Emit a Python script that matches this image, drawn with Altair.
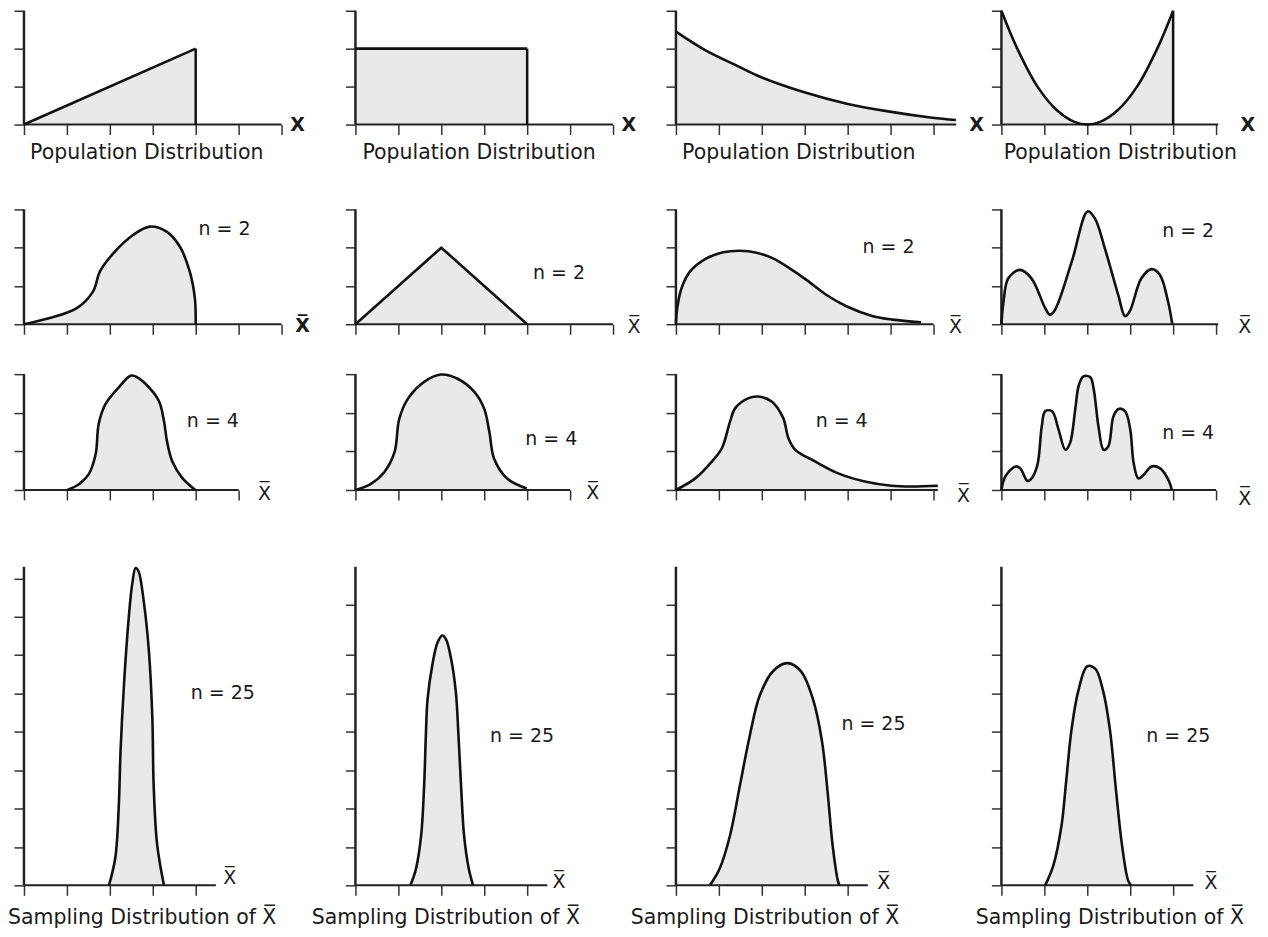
import altair as alt
import pandas as pd

FONT = "DejaVu Sans"
FILL = "#e9e9e9"
INK = "#111111"
AXC = "#222222"
XBAR = "X\u0305"

# ---------------- curves (x: tick units, y: tick units) ----------------
# Row 1 - population distributions
R1C1_X = [0, 4]
R1C1_Y = [0, 2]
R1C2_X = [0, 4]
R1C2_Y = [2, 2]
R1C3_X = [0, 0.67, 1.44, 2.0, 2.99, 3.98, 4.98, 5.97, 6.52]
R1C3_Y = [2.45, 1.97, 1.54, 1.24, 0.85, 0.55, 0.34, 0.18, 0.12]
R1C4_X = [0, 0.37, 0.84, 1.3, 1.7, 2.0, 2.3, 2.7, 3.16, 3.63, 4.0]
R1C4_Y = [3, 2.0, 1.0, 0.37, 0.07, 0, 0.07, 0.37, 1.0, 2.0, 3.0]

# Row 2 - n = 2
R2C1_X = [0, 0.6, 1.23, 1.61, 1.77, 2.08, 2.54, 2.93, 3.32, 3.63, 3.86, 3.98, 4.0]
R2C1_Y = [0, 0.16, 0.42, 0.86, 1.38, 1.85, 2.33, 2.55, 2.42, 2.03, 1.38, 0.68, 0]
R2C2_X = [0, 2, 4]
R2C2_Y = [0, 2, 0]
R2C3_X = [0, 0.03, 0.13, 0.33, 0.71, 1.1, 1.49, 1.88, 2.26, 2.65, 3.04, 3.5, 3.97, 4.59, 5.05, 5.71]
R2C3_Y = [0, 0.42, 0.94, 1.38, 1.72, 1.88, 1.92, 1.87, 1.72, 1.46, 1.16, 0.77, 0.47, 0.21, 0.12, 0.05]
R2C4_X = [0, 0.05, 0.16, 0.43, 0.7, 1.02, 1.13, 1.25, 1.64, 2.01, 2.18, 2.41, 2.72, 2.88, 2.99, 3.26, 3.5, 3.69, 3.88, 3.98]
R2C4_Y = [0, 0.6, 1.2, 1.42, 1.2, 0.42, 0.25, 0.38, 1.64, 2.95, 2.76, 1.98, 0.77, 0.21, 0.34, 1.2, 1.44, 1.29, 0.6, 0]

# Row 3 - n = 4
R3C1_X = [1.01, 1.28, 1.51, 1.67, 1.74, 1.9, 2.21, 2.48, 2.6, 2.83, 3.14, 3.26, 3.33, 3.45, 3.68, 3.99]
R3C1_Y = [0, 0.15, 0.41, 0.93, 1.71, 2.23, 2.66, 2.96, 2.94, 2.75, 2.31, 1.79, 1.27, 0.75, 0.32, 0]
R3C2_X = [0, 0.36, 0.67, 0.91, 1.02, 1.22, 1.6, 1.99, 2.38, 2.77, 3.0, 3.12, 3.23, 3.54, 3.99]
R3C2_Y = [0, 0.16, 0.46, 0.98, 1.84, 2.36, 2.8, 2.99, 2.88, 2.54, 2.1, 1.5, 0.81, 0.29, 0.04]
R3C3_X = [0, 0.45, 0.84, 1.07, 1.26, 1.38, 1.69, 1.92, 2.23, 2.5, 2.62, 2.78, 3.24, 3.78, 4.4, 5.02, 5.49, 6.1]
R3C3_Y = [0, 0.3, 0.74, 1.08, 1.77, 2.12, 2.38, 2.42, 2.29, 1.86, 1.34, 1.04, 0.74, 0.43, 0.22, 0.11, 0.09, 0.11]
R3C4_X = [0, 0.09, 0.33, 0.44, 0.6, 0.67, 0.83, 0.94, 1.02, 1.18, 1.33, 1.49, 1.6, 1.72, 1.8, 1.91, 2.07,
          2.15, 2.26, 2.38, 2.49, 2.61, 2.73, 2.88, 3.0, 3.08, 3.19, 3.31, 3.5, 3.7, 3.89, 3.97]
R3C4_Y = [0, 0.35, 0.61, 0.56, 0.24, 0.26, 0.61, 1.65, 2.04, 2.04, 1.57, 1.04, 1.22, 2.09, 2.7, 2.94, 2.92,
          2.61, 1.65, 1.04, 1.13, 1.91, 2.1, 2.04, 1.57, 0.7, 0.3, 0.39, 0.61, 0.56, 0.26, 0]

# Row 4 - n = 25
R4C1_X = [1.98, 2.13, 2.21, 2.25, 2.33, 2.44, 2.52, 2.6, 2.67, 2.79, 2.91, 2.99, 3.02, 3.1, 3.26]
R4C1_Y = [0, 0.74, 2.12, 3.51, 5.24, 6.97, 7.84, 8.27, 8.18, 7.4, 6.1, 4.37, 2.64, 1.08, 0]
R4C2_X = [1.28, 1.41, 1.53, 1.6, 1.64, 1.68, 1.8, 1.91, 2.02, 2.11, 2.23, 2.34, 2.4, 2.46, 2.53, 2.64, 2.74]
R4C2_Y = [0, 0.43, 1.3, 2.6, 3.9, 4.85, 5.8, 6.32, 6.51, 6.41, 5.89, 5.02, 3.9, 2.6, 1.3, 0.43, 0]
R4C3_X = [0.79, 1.02, 1.26, 1.49, 1.72, 1.95, 2.26, 2.6, 2.91, 3.19, 3.4, 3.53, 3.65, 3.77, 3.81]
R4C3_Y = [0, 0.44, 1.3, 2.6, 3.9, 4.94, 5.58, 5.79, 5.58, 4.86, 3.77, 2.47, 1.04, 0.13, 0]
R4C4_X = [1.02, 1.21, 1.4, 1.51, 1.63, 1.79, 2.0, 2.19, 2.37, 2.53, 2.67, 2.81, 2.95, 3.02]
R4C4_Y = [0, 0.52, 1.56, 2.73, 4.03, 5.06, 5.71, 5.64, 5.06, 4.03, 2.47, 1.04, 0.13, 0]

CURVES = [
    [(R1C1_X, R1C1_Y), (R1C2_X, R1C2_Y), (R1C3_X, R1C3_Y), (R1C4_X, R1C4_Y)],
    [(R2C1_X, R2C1_Y), (R2C2_X, R2C2_Y), (R2C3_X, R2C3_Y), (R2C4_X, R2C4_Y)],
    [(R3C1_X, R3C1_Y), (R3C2_X, R3C2_Y), (R3C3_X, R3C3_Y), (R3C4_X, R3C4_Y)],
    [(R4C1_X, R4C1_Y), (R4C2_X, R4C2_Y), (R4C3_X, R4C3_Y), (R4C4_X, R4C4_Y)],
]
SMOOTH = "catmull-rom"
INTERP = [
    ["linear", "linear", SMOOTH, SMOOTH],
    [SMOOTH, "linear", SMOOTH, SMOOTH],
    [SMOOTH] * 4,
    [SMOOTH] * 4,
]
# vertical right edges of the population shapes (x, top)
EDGES = {(0, 0): (4, 2), (0, 1): (4, 2), (0, 3): (4, 3)}

# ---------------- axes ----------------
XTICK_MAX = [[6, 6, 6, 5], [6, 6, 6, 5], [5, 5, 6, 5], [4, 4, 4, 4]]
XAXIS_END = [[6.0, 6.0, 6.53, 5.05], [6.0, 6.0, 6.0, 5.05], [5.0, 5.0, 6.1, 5.0], [4.47, 4.47, 4.47, 4.47]]
YTICKS_SMALL = [0, 1, 2, 3]
YTICKS_BIG_FIRST = [0, 1, 2, 3, 4, 5, 6, 7, 8]
YTICKS_BIG_OTHER = [0, 1, 2, 3, 4, 5, 6, 7.3]
ROW_YTOP = [3, 3, 3, 8.3]

# ---------------- texts ----------------
N_TEXT = ["n = 2", "n = 4", "n = 25"]
N_POS = [
    [(4.67, 2.48), (4.74, 1.33), (4.95, 2.03), (4.35, 2.43)],
    [(4.4, 1.78), (4.56, 1.32), (3.86, 1.78), (4.35, 1.47)],
    [(4.63, 5.0), (3.88, 3.9), (4.6, 4.2), (4.12, 3.9)],
]
X_POS = [
    [(6.37, 0.0), (6.37, 0.0), (7.0, 0.0), (5.74, 0.0)],
    [(6.49, -0.05), (6.49, -0.08), (6.51, -0.08), (5.67, -0.08)],
    [(5.6, -0.1), (5.53, -0.08), (6.7, -0.15), (5.67, -0.23)],
    [(4.79, 0.18), (4.74, 0.08), (4.84, 0.05), (4.88, 0.05)],
]
TOP_TITLE = "Population Distribution"
TOP_TITLE_X = [2.86, 2.88, 2.86, 2.77]
TOP_TITLE_Y = -0.76
BOTTOM_TITLE = "Sampling Distribution of " + XBAR
BOTTOM_TITLE_X = [-0.37, -1.02, -1.05, -0.6]
BOTTOM_TITLE_Y = -0.86

# ---------------- layout ----------------
PX_PER_UNIT = 43.0
COL_W = [332, 321, 326, 250]
ROW_H = [149, 115, 143, 319]
ROW_YDOM = [[-0.921, 3], [0, 3], [-0.698, 3], [0, 8.3]]
ROW_AXIS_OFFSET = [-35, 0, -27, 0]


def make_panel(r, c):
    cx, cy = CURVES[r][c]
    interp = INTERP[r][c]
    xs = alt.Scale(domain=[0, COL_W[c] / PX_PER_UNIT], nice=False, zero=False)
    ys = alt.Scale(domain=ROW_YDOM[r], nice=False, zero=False)
    if r < 3:
        yt = YTICKS_SMALL
    else:
        yt = YTICKS_BIG_FIRST if c == 0 else YTICKS_BIG_OTHER
    xaxis = alt.Axis(values=list(range(XTICK_MAX[r][c] + 1)), domain=False, labels=False, grid=False,
                     tickSize=10, tickWidth=1.5, tickColor="#333333", title=None,
                     offset=ROW_AXIS_OFFSET[r])
    yaxis = alt.Axis(values=yt, domain=False, labels=False, grid=False,
                     tickSize=10, tickWidth=1.5, tickColor="#333333", title=None)

    def X(f="x"):
        return alt.X(f"{f}:Q", scale=xs, axis=xaxis)

    def Y(f="y"):
        return alt.Y(f"{f}:Q", scale=ys, axis=yaxis)

    curve = pd.DataFrame({"x": cx, "y": cy, "b": [0] * len(cx)})
    area = alt.Chart(curve).mark_area(color=FILL, interpolate=interp).encode(
        x=X(), y=Y(), y2=alt.Y2("b:Q"))
    xline = alt.Chart(pd.DataFrame({"x": [0], "x2": [XAXIS_END[r][c]], "y": [0]})).mark_rule(
        color=AXC, strokeWidth=2).encode(x=X(), x2="x2:Q", y=Y())
    yline = alt.Chart(pd.DataFrame({"x": [0], "y": [0], "y2": [ROW_YTOP[r]]})).mark_rule(
        color=AXC, strokeWidth=2.5).encode(x=X(), y=Y(), y2="y2:Q")
    line = alt.Chart(curve).mark_line(color=INK, strokeWidth=2.6, interpolate=interp,
                                      strokeJoin="round").encode(x=X(), y=Y())
    layers = [area, xline, yline, line]
    if (r, c) in EDGES:
        ex, ey = EDGES[(r, c)]
        layers.append(alt.Chart(pd.DataFrame({"x": [ex], "y": [0], "y2": [ey]})).mark_rule(
            color=INK, strokeWidth=2.5).encode(x=X(), y=Y(), y2="y2:Q"))
    # axis letter
    lx, ly = X_POS[r][c]
    letter = "X" if r == 0 else XBAR
    bold = (r == 0) or (r == 1 and c == 0)
    layers.append(alt.Chart(pd.DataFrame({"x": [lx], "y": [ly], "t": [letter]})).mark_text(
        font=FONT, fontSize=19, fontWeight="bold" if bold else "normal", color="#1a1a1a",
        align="center", baseline="middle").encode(x=X(), y=Y(), text="t:N"))
    if r >= 1:
        nx, ny = N_POS[r - 1][c]
        layers.append(alt.Chart(pd.DataFrame({"x": [nx], "y": [ny], "t": [N_TEXT[r - 1]]})).mark_text(
            font=FONT, fontSize=19, color="#1a1a1a", align="center", baseline="middle").encode(
            x=X(), y=Y(), text="t:N"))
    if r == 0:
        layers.append(alt.Chart(pd.DataFrame({"x": [TOP_TITLE_X[c]], "y": [TOP_TITLE_Y], "t": [TOP_TITLE]})).mark_text(
            font=FONT, fontSize=20.5, color="#1a1a1a", align="center", baseline="middle").encode(
            x=X(), y=Y(), text="t:N"))
    if r == 3:
        layers.append(alt.Chart(pd.DataFrame({"x": [BOTTOM_TITLE_X[c]], "y": [BOTTOM_TITLE_Y], "t": [BOTTOM_TITLE]})).mark_text(
            font=FONT, fontSize=20.5, color="#1a1a1a", align="left", baseline="middle").encode(
            x=X(), y=Y(), text="t:N"))
    return alt.layer(*layers).properties(width=COL_W[c], height=ROW_H[r])


panels = [make_panel(r, c) for r in range(4) for c in range(4)]

chart = alt.concat(
    *panels, columns=4, spacing=alt.RowColnumber(row=50, column=0), bounds="flush"
).properties(
    padding={"left": 0, "top": 0, "right": 4, "bottom": 0}
).configure_view(stroke=None)

chart.save("out.html", embed_options={"renderer": "svg", "actions": False})
